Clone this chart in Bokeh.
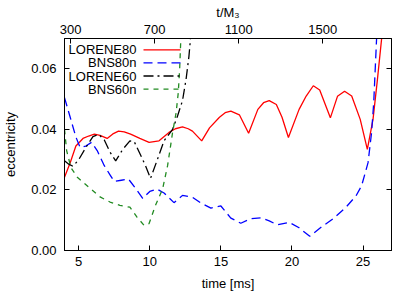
from bokeh.plotting import figure
from bokeh.models import (LinearAxis, Range1d, FixedTicker, PrintfTickFormatter,
                          CustomJSTickFormatter, Label, Arrow)
from bokeh.embed import file_html
from bokeh.resources import INLINE

# ---------------- data ----------------
series_names = ["LORENE80", "BNS80n", "LORENE60", "BNS60n"]

lorene80_t = [4.0, 4.4, 4.8, 5.3, 5.7, 6.1, 6.5, 7.0, 7.4, 7.8, 8.2, 8.65, 9.3, 9.95,
              10.65, 11.35, 11.8, 12.3, 12.7, 13.0, 13.65, 14.2, 14.9, 15.3, 15.7, 16.3,
              16.95, 17.6, 18.0, 18.4, 18.9, 19.3, 19.75, 20.5, 21.0, 21.5, 21.95, 22.7,
              23.2, 23.7, 24.2, 24.8, 25.3, 25.7, 26.0, 26.35]
lorene80_e = [0.0242, 0.0290, 0.0345, 0.0370, 0.0378, 0.0384, 0.0380, 0.0370, 0.0385,
              0.0394, 0.0392, 0.0384, 0.0370, 0.0357, 0.0362, 0.0390, 0.0402, 0.0408,
              0.0402, 0.0394, 0.0362, 0.0405, 0.0440, 0.0455, 0.0460, 0.0448, 0.0387,
              0.0466, 0.0488, 0.0495, 0.0482, 0.0440, 0.0373, 0.0466, 0.0510, 0.0544,
              0.0530, 0.0438, 0.0509, 0.0526, 0.0510, 0.0433, 0.0334, 0.0433, 0.0560,
              0.0720]

bns80n_t = [4.0, 4.4, 4.8, 5.1, 5.5, 5.9, 6.3, 6.8, 7.2, 7.5, 8.0, 8.5, 9.0, 9.5, 10.0,
            10.5, 11.0, 11.7, 12.3, 13.0, 13.55, 14.3, 15.0, 15.7, 16.4, 17.1, 17.8,
            18.4, 18.95, 19.8, 20.5, 21.25, 22.0, 22.9, 23.8, 24.5, 24.9, 25.35, 25.6,
            25.75, 25.97]
bns80n_e = [0.0505, 0.0440, 0.0375, 0.0340, 0.0345, 0.0357, 0.0330, 0.0280, 0.0250,
            0.0228, 0.0232, 0.0236, 0.0205, 0.0172, 0.0195, 0.0203, 0.0190, 0.0158,
            0.0182, 0.0176, 0.0158, 0.0140, 0.0147, 0.0107, 0.0090, 0.0105, 0.0108,
            0.0098, 0.0085, 0.0093, 0.0075, 0.0047, 0.0075, 0.0105, 0.0143, 0.0180,
            0.0214, 0.0290, 0.0390, 0.0488, 0.0720]

lorene60_t = [4.0, 4.3, 4.6, 5.0, 5.5, 6.0, 6.4, 6.8, 7.2, 7.6, 8.1, 8.6, 8.9, 9.3,
              9.7, 10.05, 10.5, 11.0, 11.6, 11.95, 12.3, 12.55, 12.75, 12.9]
lorene60_e = [0.0296, 0.0285, 0.0278, 0.0300, 0.0340, 0.0376, 0.0384, 0.0365, 0.0325,
              0.0296, 0.0334, 0.0362, 0.0360, 0.0320, 0.0280, 0.0238, 0.0296, 0.0362,
              0.0400, 0.0444, 0.0495, 0.0565, 0.0640, 0.0720]

bns60n_t = [4.0, 4.15, 4.45, 4.9, 5.7, 6.5, 7.2, 7.9, 8.6, 9.1, 9.6, 9.95, 10.4, 10.9,
            11.25, 11.6, 11.85, 12.0, 12.1, 12.2]
bns60n_e = [0.0400, 0.0330, 0.0274, 0.0242, 0.0209, 0.0177, 0.0160, 0.0149, 0.0143,
            0.0110, 0.0083, 0.0089, 0.0149, 0.0203, 0.0280, 0.0389, 0.0455, 0.0520,
            0.0600, 0.0720]

time_ticks = [5, 10, 15, 20, 25]
ecc_ticks = [0.00, 0.02, 0.04, 0.06]
tm_ticks = [300, 700, 1100, 1500]
ms_to_M = 67.68  # 1 ms in units of M (M = 3 Msun)

# ---------------- figure ----------------
FONT = "Liberation Sans"
FS = "13px"
FW, FH = 327, 212

p = figure(frame_width=FW, frame_height=FH, x_range=Range1d(4, 27), y_range=Range1d(0, 0.07),
           output_backend="svg", toolbar_location=None,
           min_border_left=61, min_border_right=11, min_border_top=38,
           min_border_bottom=40, x_axis_label="time [ms]", y_axis_label="eccentricity")
p.grid.visible = False
p.outline_line_color = "black"
p.outline_line_width = 1
p.background_fill_color = "white"
p.border_fill_color = "white"

xa = p.below[0]
ya = p.left[0]

p.extra_x_ranges = {"tm": Range1d(4 * ms_to_M, 27 * ms_to_M)}
top_axis = LinearAxis(x_range_name="tm", axis_label="t/M\u2083")
p.add_layout(top_axis, "above")
right_axis = LinearAxis()
p.add_layout(right_axis, "right")

def style_axis(ax, ticks):
    ax.ticker = FixedTicker(ticks=ticks)
    ax.major_tick_in = 5
    ax.major_tick_out = 0
    ax.minor_tick_line_color = None
    ax.axis_line_color = "black"
    ax.major_tick_line_color = "black"
    ax.major_label_text_font = FONT
    ax.major_label_text_font_size = FS
    ax.major_label_text_color = "black"
    ax.axis_label_text_font = FONT
    ax.axis_label_text_font_size = FS
    ax.axis_label_text_font_style = "normal"
    ax.axis_label_text_color = "black"

style_axis(xa, time_ticks)
xa.major_label_standoff = 6
xa.axis_label_standoff = 7

style_axis(ya, ecc_ticks)
ya.formatter = PrintfTickFormatter(format="%.2f")
ya.major_label_standoff = 8
ya.axis_label_standoff = 10

style_axis(top_axis, tm_ticks)
top_axis.major_label_standoff = 5
top_axis.axis_label_standoff = 2

style_axis(right_axis, ecc_ticks)
right_axis.formatter = CustomJSTickFormatter(code="return ''")
right_axis.major_label_standoff = 0

# ---------------- curves ----------------
styles = [
    dict(color="#ff0000", dash="solid"),
    dict(color="#0000ff", dash="9 5"),
    dict(color="#000000", dash="10 4 2 4"),
    dict(color="#228b22", dash="5 5"),
]
data = [(lorene80_t, lorene80_e), (bns80n_t, bns80n_e),
        (lorene60_t, lorene60_e), (bns60n_t, bns60n_e)]
for (t, e), st in zip(data, styles):
    p.line(t, e, line_color=st["color"], line_width=1.3, line_dash=st["dash"])

# ---------------- key (gnuplot style: text right, sample to the right) ----------------
row_top = [11.3, 24.4, 37.5, 50.6]
text_right = 72
samp_x0, samp_x1 = 79, 116
for name, st, ry in zip(series_names, styles, row_top):
    yy = FH - ry
    p.add_layout(Label(x=text_right, y=yy, x_units="screen", y_units="screen",
                       text=name, text_align="right", text_baseline="middle",
                       text_font=FONT, text_font_size=FS, text_color="black"))
    p.add_layout(Arrow(end=None, x_start=samp_x0, y_start=yy, x_end=samp_x1, y_end=yy,
                       start_units="screen", end_units="screen",
                       line_color=st["color"], line_width=1.3, line_dash=st["dash"]))

open("out.html", "w").write(file_html(p, INLINE))
